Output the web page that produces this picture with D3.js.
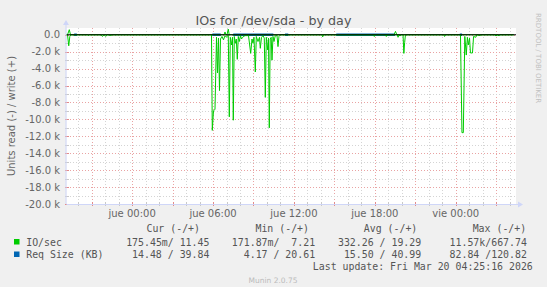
<!DOCTYPE html>
<html>
<head>
<meta charset="utf-8">
<script src="https://cdn.jsdelivr.net/npm/d3@7"></script>
<style>
 body { margin: 0; background: #f0f0f0; }
 svg { display: block; }
</style>
</head>
<body>
<svg width="547" height="287"></svg>
<script>
// time is in hours since jue 00:00 (Thu Mar 19), negative = mié
var readTimes = [-4.86, -4.79, -4.70, -4.62, -4.55, -3.31, -3.25, -3.18, -2.31, -2.20, -2.09, -1.95, -1.83, -1.57, -1.49,
 5.886, 5.945, 6.034, 6.145, 6.257, 6.331, 6.405, 6.479, 6.553, 6.664, 6.775, 6.887, 6.998, 7.131, 7.206, 7.280,
 7.369, 7.443, 7.502, 7.576, 7.651, 7.725, 7.799, 7.873, 7.947, 8.036, 8.111, 8.185, 8.370, 8.630, 8.793, 8.889,
 8.963, 9.037, 9.134, 9.208, 9.334, 9.445, 9.505, 9.594, 9.705, 9.801, 9.876, 9.950, 10.054, 10.113, 10.172,
 10.239, 10.313, 10.372, 10.446, 10.521, 10.617, 10.743, 10.817, 10.891, 11.003,
 14.065, 14.132, 14.199, 17.90, 17.96, 18.02, 18.79, 18.85, 18.90, 19.66, 19.72, 19.79, 19.86, 19.94,
 20.09, 20.15, 20.21, 20.27, 23.11, 23.17, 23.23, 24.35, 24.46, 24.56, 24.67, 24.78, 24.86, 24.93, 25.02,
 25.09, 25.24, 25.32, 25.48, 25.57, 25.80, 25.87, 26.91, 26.98, 27.06, 27.21, 27.28, 28.30];
var readValues = [0, 0, 1300, 200, 0, 0, 100, 0, 0, 200, 0, 180, 0, 80, 0,
 0, 11300, 9000, 8800, 300, 4500, 400, 6600, 500, 200, 600, 100, 300, 0, 9700, 300,
 1200, 300, 10100, 200, 1000, 500, 2900, 200, 800, 100, 500, 300, 100, 100, 2200, 500,
 1000, 300, 4400, 200, 800, 300, 1600, 300, 100, 400, 7400, 300, 1800, 400, 11000,
 500, 300, 3000, 200, 800, 100, 100, 1400, 200, 0,
 0, 250, 0, 0, 200, 0, 0, 200, 0, 0, 300, 0, 150, 0,
 0, 2200, 900, 0, 0, 200, 0, 0, 11570, 11570, 200, 2400, 300, 1200, 400,
 2150, 2150, 200, 300, 0, 100, 0, 0, 150, 0, 120, 0, 0];

var writeTimes = [-4.86, -4.79, -4.66, -4.57, 6.813, 6.887, 6.961, 7.035, 7.131, 7.198, 19.42, 19.53, 19.63, 28.30];
var writeValues = [0, 0, 600, 0, 0, 330, 0, 0, 667, 0, 0, 400, 0, 0];

// Req Size (KB), null = no data
var reqTimes = [-4.30, -4.10, -4.00, 5.95, 6.57, 6.60, 7.50, 10.47, 10.50, 11.34, 11.58, 11.60, 15.14, 19.49, 19.50, 24.30, 24.47];
var reqWrite = [40, 40, null, 40, 40, null, 40, 40, null, 40, 40, null, 40, 40, null, 40, 40];
var reqRead = [15, 15, null, 15, 15, null, 15, 15, null, 15, 15, null, 15, 15, null, 15, 15];

var xTickHours = [0, 6, 12, 18, 24];
var xTickLabels = ["jue 00:00", "jue 06:00", "jue 12:00", "jue 18:00", "vie 00:00"];
var yTickValues = [0, -2000, -4000, -6000, -8000, -10000, -12000, -14000, -16000, -18000, -20000];
var yTickLabels = ["0.0", "-2.0 k", "-4.0 k", "-6.0 k", "-8.0 k", "-10.0 k", "-12.0 k", "-14.0 k", "-16.0 k", "-18.0 k", "-20.0 k"];

var legendNames = ["IO/sec", "Req Size (KB)"];
var legendColors = ["#00cc00", "#0066b3"];
var legendHeads = ["Cur (-/+)", "Min (-/+)", "Avg (-/+)", "Max (-/+)"];
var legendRows = [
 ["175.45m/ 11.45", "171.87m/  7.21", "332.26 / 19.29", "11.57k/667.74"],
 ["14.48 / 39.84", "4.17 / 20.61", "15.50 / 40.99", "82.84 /120.82"]
];

var svg = d3.select("svg");
var pL = 66.5, pR = 516, pT = 28, pB = 204;

var x = d3.scaleLinear().domain([-4.8667, 28.467]).range([pL, pR]);
var y = d3.scaleLinear().domain([-20000, 800]).range([pB, pT]);

// canvas
svg.append("rect").attr("x", pL).attr("y", pT).attr("width", pR - pL).attr("height", pB - pT).attr("fill", "#fff");

// grid
var g = svg.append("g").attr("shape-rendering", "crispEdges");
var hours = d3.range(Math.ceil(x.domain()[0]), x.domain()[1], 1);
g.selectAll(".vgrid").data(hours).enter().append("line")
 .attr("x1", function(d) { return Math.round(x(d)) + 0.5; })
 .attr("x2", function(d) { return Math.round(x(d)) + 0.5; })
 .attr("y1", pT).attr("y2", pB)
 .attr("stroke", function(d) { return d % 3 == 0 ? "#e9a3a3" : "#d4d4d4"; })
 .attr("stroke-dasharray", "1,2");
var kilos = d3.range(-19000, 1000, 1000);
g.selectAll(".hgrid").data(kilos).enter().append("line")
 .attr("x1", pL).attr("x2", pR)
 .attr("y1", function(d) { return Math.round(y(d)) + 0.5; })
 .attr("y2", function(d) { return Math.round(y(d)) + 0.5; })
 .attr("stroke", function(d) { return d % 2000 == 0 ? "#e9a3a3" : "#d4d4d4"; })
 .attr("stroke-dasharray", "1,2");
// ticks on the axes
g.selectAll(".xt").data(hours).enter().append("line")
 .attr("x1", function(d) { return Math.round(x(d)) + 0.5; })
 .attr("x2", function(d) { return Math.round(x(d)) + 0.5; })
 .attr("y1", pB - 2).attr("y2", pB + 2)
 .attr("stroke", function(d) { return d % 3 == 0 ? "#e38a8a" : "#c8c8c8"; });
g.selectAll(".yt").data(kilos.concat([-20000])).enter().append("line")
 .attr("x1", pL - 2).attr("x2", pL + 2)
 .attr("y1", function(d) { return Math.round(y(d)) + 0.5; })
 .attr("y2", function(d) { return Math.round(y(d)) + 0.5; })
 .attr("stroke", function(d) { return d % 2000 == 0 ? "#e38a8a" : "#c8c8c8"; });

// data lines
var lineRead = d3.line().x(function(d) { return x(d[0]); }).y(function(d) { return y(-d[1]); });
var lineWrite = d3.line().x(function(d) { return x(d[0]); }).y(function(d) { return y(d[1]); });

var reqPts = d3.zip(reqTimes, reqWrite);
var reqPtsR = d3.zip(reqTimes, reqRead);
svg.append("path").attr("d", lineRead.defined(function(d) { return d[1] != null; })(reqPtsR))
 .attr("fill", "none").attr("stroke", legendColors[1]).attr("stroke-width", 2);
svg.append("path").attr("d", lineWrite.defined(function(d) { return d[1] != null; })(reqPts))
 .attr("fill", "none").attr("stroke", legendColors[1]).attr("stroke-width", 2);

svg.append("path").attr("d", lineRead(d3.zip(readTimes, readValues)))
 .attr("fill", "none").attr("stroke", legendColors[0]).attr("stroke-width", 1);
svg.append("path").attr("d", lineWrite(d3.zip(writeTimes, writeValues)))
 .attr("fill", "none").attr("stroke", legendColors[0]).attr("stroke-width", 1);

// zero rule
svg.append("line").attr("x1", pL).attr("x2", pR).attr("y1", y(0)).attr("y2", y(0))
 .attr("stroke", "#000").attr("stroke-width", 1);

// axes + arrows
var axisCol = "#cfd6f8";
svg.append("line").attr("x1", pL).attr("x2", pR + 3).attr("y1", pB + 0.5).attr("y2", pB + 0.5).attr("stroke", axisCol);
svg.append("line").attr("x1", pL - 0.5).attr("x2", pL - 0.5).attr("y1", pB).attr("y2", pT - 4).attr("stroke", axisCol);
svg.append("path").attr("d", "M" + (pR + 2) + "," + (pB - 2.5) + "L" + (pR + 7) + "," + (pB + 0.5) + "L" + (pR + 2) + "," + (pB + 3.5) + "Z").attr("fill", axisCol);
svg.append("path").attr("d", "M" + (pL - 3.5) + "," + (pT - 3) + "L" + (pL - 0.5) + "," + (pT - 8) + "L" + (pL + 2.5) + "," + (pT - 3) + "Z").attr("fill", axisCol);

// labels
var font = "DejaVu Sans";
svg.selectAll(".ylab").data(yTickValues).enter().append("text")
 .attr("x", 60).attr("y", function(d) { return y(d) + 3.5; })
 .attr("text-anchor", "end").attr("font-family", font).attr("font-size", 10).attr("fill", "#666")
 .text(function(d, i) { return yTickLabels[i]; });
svg.selectAll(".xlab").data(xTickHours).enter().append("text")
 .attr("x", function(d) { return x(d); }).attr("y", 217)
 .attr("text-anchor", "middle").attr("font-family", font).attr("font-size", 10).attr("fill", "#666")
 .text(function(d, i) { return xTickLabels[i]; });

svg.append("text").attr("x", 273.5).attr("y", 24.5).attr("text-anchor", "middle")
 .attr("font-family", font).attr("font-size", 12.7).attr("fill", "#555")
 .text("IOs for /dev/sda - by day");
svg.append("text").attr("transform", "translate(14.5," + ((pT + pB) / 2) + ") rotate(-90)")
 .attr("text-anchor", "middle").attr("font-family", font).attr("font-size", 10).attr("fill", "#666")
 .text("Units read (-) / write (+)");
svg.append("text").attr("transform", "translate(536,13) rotate(90)")
 .attr("font-family", font).attr("font-size", 7).attr("fill", "#c0c0c0")
 .text("RRDTOOL / TOBI OETIKER");

// legend
var mono = "DejaVu Sans Mono";
var headEnds = [200, 309, 417.3, 526.2];
var colEnds = [209.4, 315.1, 421.2, 526.9];
svg.selectAll(".lh").data(legendHeads).enter().append("text")
 .attr("x", function(d, i) { return headEnds[i]; }).attr("y", 232.3)
 .attr("text-anchor", "end").attr("font-family", mono).attr("font-size", 9.9).attr("fill", "#555")
 .text(function(d) { return d; });
legendRows.forEach(function(row, r) {
 var yy = 245.5 + r * 12.5;
 svg.append("rect").attr("x", 14).attr("y", yy - 6.5).attr("width", 5.5).attr("height", 5.5).attr("fill", legendColors[r]);
 svg.append("text").attr("x", 26.2).attr("y", yy).attr("font-family", mono).attr("font-size", 9.9).attr("fill", "#555")
  .text(legendNames[r]);
 svg.selectAll(".lr" + r).data(row).enter().append("text")
  .attr("x", function(d, i) { return colEnds[i]; }).attr("y", yy)
  .attr("text-anchor", "end").attr("font-family", mono).attr("font-size", 9.9).attr("fill", "#555")
  .style("white-space", "pre").text(function(d) { return d; });
});
svg.append("text").attr("x", 532.8).attr("y", 270).attr("text-anchor", "end")
 .attr("font-family", mono).attr("font-size", 9.9).attr("fill", "#555")
 .text("Last update: Fri Mar 20 04:25:16 2026");
svg.append("text").attr("x", 273).attr("y", 282.5).attr("text-anchor", "middle")
 .attr("font-family", font).attr("font-size", 7.5).attr("fill", "#bbb")
 .text("Munin 2.0.75");
</script>
</body>
</html>
